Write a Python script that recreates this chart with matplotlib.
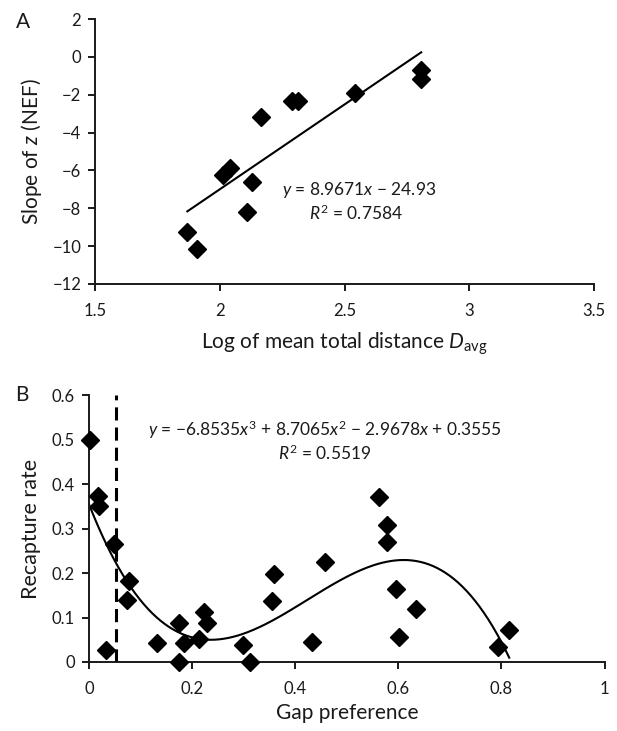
import numpy as np
import matplotlib
matplotlib.use("Agg")
import matplotlib.pyplot as plt

plt.rcParams["font.family"] = ["Lato", "DejaVu Sans"]
plt.rcParams["mathtext.fontset"] = "custom"
plt.rcParams["mathtext.rm"] = "Lato"
plt.rcParams["mathtext.it"] = "Lato:italic"

INK = "#1a1a1a"

# Panel A: slope of z vs log mean distance
log_dist = [1.870, 1.910, 2.012, 2.039, 2.107, 2.129, 2.166, 2.288, 2.315, 2.543, 2.807, 2.807]
slope_z = [-9.27, -10.17, -6.23, -5.88, -8.19, -6.61, -3.16, -2.33, -2.33, -1.91, -0.71, -1.15]
fit_a = [8.9671, -24.93]
r2_a = 0.7584
xticks_a = [1.5, 2, 2.5, 3, 3.5]
xticklabels_a = ["1.5", "2", "2.5", "3", "3.5"]
yticks_a = [-12, -10, -8, -6, -4, -2, 0, 2]

# Panel B: recapture rate vs gap preference
gap_pref = [0.002, 0.018, 0.020, 0.034, 0.049, 0.077, 0.073, 0.133, 0.175, 0.175,
            0.184, 0.213, 0.223, 0.230, 0.298, 0.312, 0.355, 0.358, 0.433, 0.457,
            0.563, 0.578, 0.578, 0.596, 0.602, 0.634, 0.794, 0.815]
recapture = [0.498, 0.374, 0.350, 0.028, 0.266, 0.182, 0.139, 0.042, 0.087, 0.0,
             0.043, 0.051, 0.113, 0.088, 0.038, 0.0, 0.137, 0.197, 0.044, 0.225,
             0.371, 0.307, 0.270, 0.163, 0.057, 0.120, 0.033, 0.073]
fit_b = [-6.8535, 8.7065, -2.9678, 0.3555]
r2_b = 0.5519
gap_cutoff = 0.052
xticks_b = [0, 0.2, 0.4, 0.6, 0.8, 1]
xticklabels_b = ["0", "0.2", "0.4", "0.6", "0.8", "1"]
yticks_b = [0, 0.1, 0.2, 0.3, 0.4, 0.5, 0.6]
yticklabels_b = ["0", "0.1", "0.2", "0.3", "0.4", "0.5", "0.6"]


def style_axes(ax):
    for side in ("top", "right"):
        ax.spines[side].set_visible(False)
    for side in ("left", "bottom"):
        ax.spines[side].set_linewidth(1.4)
        ax.spines[side].set_color(INK)
    ax.tick_params(direction="out", length=5, width=1.4, color=INK,
                   labelsize=12, labelcolor=INK)
    ax.tick_params(axis="x", pad=9)
    ax.tick_params(axis="y", pad=5)


fig = plt.figure(figsize=(6.17, 7.31), dpi=100)

# --- A ---
ax1 = fig.add_axes([0.154, 0.6115, 0.809, 0.3625])
ax1.plot(log_dist, slope_z, "D", color="black", ms=9.2, mec="black", zorder=3)
xs = np.linspace(min(log_dist), max(log_dist), 50)
ax1.plot(xs, np.polyval(fit_a, xs), color="black", lw=1.5, zorder=2)
ax1.set_xlim(1.5, 3.5)
ax1.set_ylim(-12, 2)
ax1.set_xticks(xticks_a)
ax1.set_xticklabels(xticklabels_a)
ax1.set_yticks(yticks_a)
style_axes(ax1)
ax1.set_xlabel(r"Log of mean total distance $\mathit{D}_{\mathrm{avg}}$",
               fontsize=15, color=INK, labelpad=8)
ax1.set_ylabel(r"Slope of $\mathit{z}$ (NEF)", fontsize=15, color=INK, labelpad=6)
ax1.text(2.558, -7.05, r"$\mathit{y}$ = %.4f$\mathit{x}$ $-$ %.2f" % (fit_a[0], -fit_a[1]),
         ha="center", va="center", fontsize=12.5, color=INK)
ax1.text(2.546, -8.26, r"$\mathit{R}^2$ = %.4f" % r2_a,
         ha="center", va="center", fontsize=12.5, color=INK)
fig.text(23 / 617, 1 - 22 / 731, "A", fontsize=15, color=INK, ha="center", va="center")

# --- B ---
ax2 = fig.add_axes([0.144, 0.0944, 0.836, 0.3652])
ax2.plot(gap_pref, recapture, "D", color="black", ms=9.2, mec="black", zorder=3,
         clip_on=False)
xs = np.linspace(0, max(gap_pref), 200)
ax2.plot(xs, np.polyval(fit_b, xs), color="black", lw=1.5, zorder=2)
ax2.plot([gap_cutoff, gap_cutoff], [0, 0.6], color="black", lw=2.2,
         dashes=(4.3, 2.3), zorder=2)
ax2.set_xlim(0, 1)
ax2.set_ylim(0, 0.6)
ax2.set_xticks(xticks_b)
ax2.set_xticklabels(xticklabels_b)
ax2.set_yticks(yticks_b)
ax2.set_yticklabels(yticklabels_b)
style_axes(ax2)
ax2.set_xlabel("Gap preference", fontsize=15, color=INK, labelpad=4)
ax2.set_ylabel("Recapture rate", fontsize=15.5, color=INK, labelpad=8)
eq_b = (r"$\mathit{y}$ = $-$%.4f$\mathit{x}^3$ + %.4f$\mathit{x}^2$ $-$ %.4f$\mathit{x}$ + %.4f"
        % (-fit_b[0], fit_b[1], -fit_b[2], fit_b[3]))
ax2.text(0.458, 0.521, eq_b, ha="center", va="center", fontsize=12.5, color=INK)
ax2.text(0.457, 0.470, r"$\mathit{R}^2$ = %.4f" % r2_b,
         ha="center", va="center", fontsize=12.5, color=INK)
fig.text(22 / 617, 1 - 395 / 731, "B", fontsize=15, color=INK, ha="center", va="center")

fig.savefig("out.png", dpi=100)
plt.close(fig)
